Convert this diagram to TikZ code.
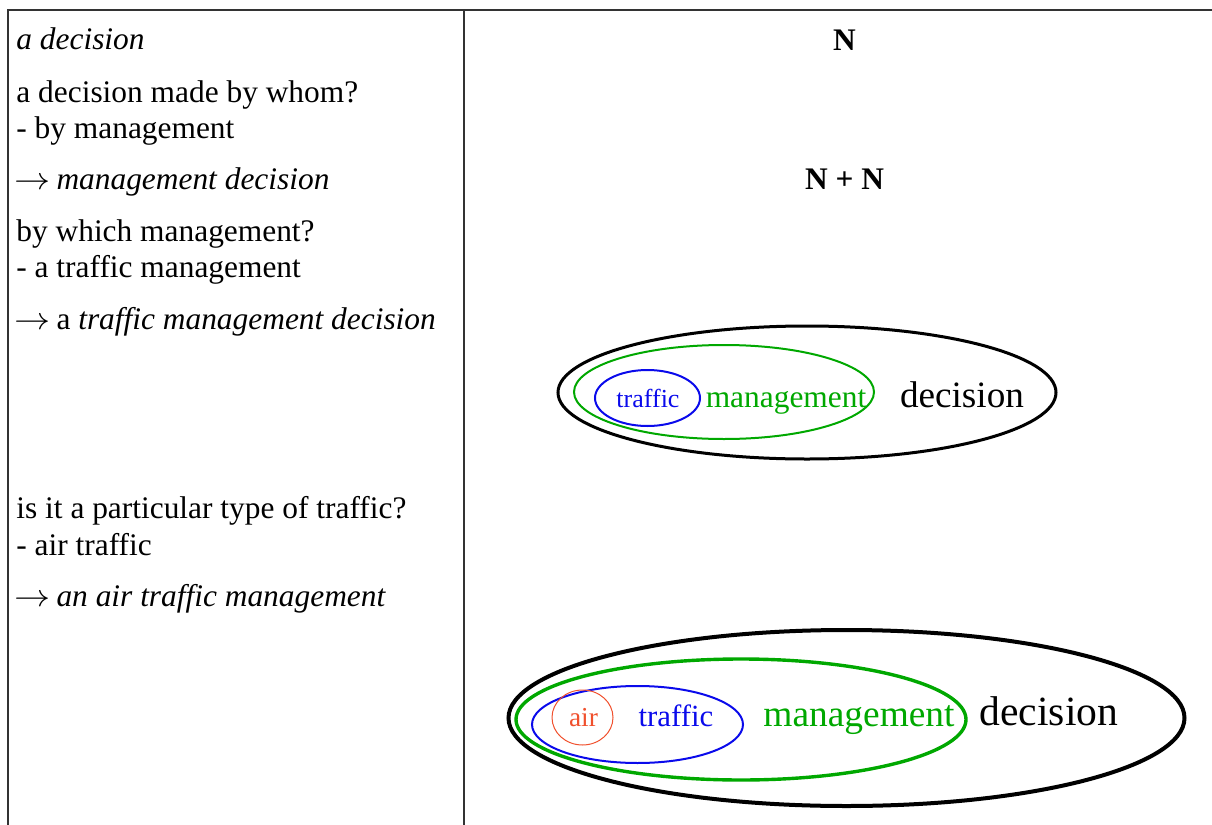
\RequirePackage{fix-cm}
\documentclass[tikz,border=0pt]{standalone}
\usepackage{fontspec}
\setmainfont{Liberation Serif}
\usetikzlibrary{positioning}
\definecolor{nounblue}{RGB}{10,10,235}
\definecolor{noungreen}{RGB}{0,168,0}
\definecolor{nounred}{RGB}{240,80,45}
\newcommand{\toarrow}{\scalebox{1.15}[1]{$\rightarrow$}\hspace{3pt}}

\begin{document}
\begin{tikzpicture}[x=0.5pt, y=0.5pt,
  cell/.style={anchor=base west, inner sep=0pt, font=\fontsize{15.7}{18}\selectfont},
  formula/.style={anchor=base, inner sep=0pt, font=\fontsize{15.7}{18}\selectfont\bfseries},
  word/.style={anchor=base, inner sep=0pt, font=\fontsize{#1}{#1}\selectfont},
  tablerule/.style={line width=0.75pt, black!80}]
  \useasboundingbox (0,0) rectangle (1212,-825);

  % table
  \draw[tablerule] (1212,-10) -- (8,-10) -- (8,-825);
  \draw[tablerule] (464,-10) -- (464,-825);

  % left column
  \node[cell] (single) at (16,-49) {\itshape a decision};
  \node[cell] (whom) at (16,-102) {a decision made by whom?};
  \node[cell] (bymgmt) at (16,-138) {- by management};
  \node[cell] (mgmtdec) at (14,-189) {\toarrow\itshape management decision};
  \node[cell] (which) at (16,-241) {by which management?};
  \node[cell] (trafmgmt) at (16,-277) {- a traffic management};
  \node[cell] (trafdec) at (14,-329) {\toarrow a \itshape traffic management decision};
  \node[cell] (type) at (16,-518) {is it a particular type of traffic?};
  \node[cell] (air) at (16,-555) {- air traffic};
  \node[cell] (airmgmt) at (14,-606) {\toarrow\itshape an air traffic management};

  % right column
  \node[formula] (n) at (844.5,-50) {N};
  \node[formula] (nn) at (844.5,-189) {N + N};

  % traffic management decision
  \draw[line width=1.5pt] (807,-392.5) ellipse [x radius=249, y radius=66.5];
  \draw[noungreen, line width=1pt] (724,-392) ellipse [x radius=150, y radius=47];
  \draw[nounblue, line width=1pt] (647.5,-398) ellipse [x radius=52.5, y radius=28];
  \node[word=13, nounblue] (traf1) at (648,-407) {traffic};
  \node[word=15.7, noungreen] (mgmt1) at (786,-407) {management};
  \node[word=18.6] (dec1) at (962,-407) {decision};

  % air traffic management decision
  \draw[line width=2pt] (846.5,-718) ellipse [x radius=338, y radius=88];
  \draw[noungreen, line width=1.7pt] (741,-719.5) ellipse [x radius=225, y radius=60.5];
  \draw[nounblue, line width=1pt] (637.5,-724.5) ellipse [x radius=105.5, y radius=38.5];
  \draw[nounred, line width=0.5pt] (582.5,-717.5) ellipse [x radius=30.5, y radius=27.5];
  \node[word=13.7, nounred] (air2) at (583.5,-726) {air};
  \node[word=15.4, nounblue] (traf2) at (676,-726) {traffic};
  \node[word=18.7, noungreen] (mgmt2) at (859,-726) {management};
  \node[word=20.8] (dec2) at (1049,-725) {decision};
\end{tikzpicture}
\end{document}
